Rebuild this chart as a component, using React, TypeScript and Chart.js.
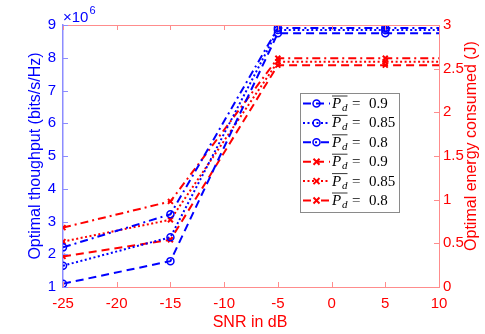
import React, { useEffect, useRef } from "react";
import { Chart, registerables } from "chart.js";
Chart.register(...registerables);

// SNR (dB); last point lies beyond the axis limit and is clipped
const snr = [-25, -15, -5, 5, 15];
// Optimal throughput (x10^6 bits/s/Hz), left axis
const thrPd090 = [1.1, 1.79, 8.75, 8.75, 8.75];
const thrPd085 = [1.65, 2.52, 8.85, 8.85, 8.85];
const thrPd080 = [2.21, 3.22, 8.91, 8.91, 8.91];
// Optimal energy consumed (J), right axis
const engPd090 = [0.35, 0.54, 2.54, 2.54, 2.54];
const engPd085 = [0.52, 0.77, 2.58, 2.58, 2.58];
const engPd080 = [0.68, 0.98, 2.62, 2.62, 2.62];

const legendValues = ["0.9", "0.85", "0.8", "0.9", "0.85", "0.8"];
const xTickValues = [-25, -20, -15, -10, -5, 0, 5, 10];
const yTickValues = [1, 2, 3, 4, 5, 6, 7, 8, 9];
const y1TickValues = [0, 0.5, 1, 1.5, 2, 2.5, 3];

const BLUE = "#0000ff";
const RED = "#ff0000";
const BLUE_AX = "#8c8cff";
const RED_AX = "#ff8c8c";
const SANS = "'Liberation Sans', Arial, sans-serif";
const SERIF = "'Liberation Serif', 'Times New Roman', serif";

const DASHED = [8, 5];
const DOTTED = [2, 2.5];
const DASHDOT = [8, 4, 2, 4];

const toPts = (ys: number[]) => snr.map((x, i) => ({ x, y: ys[i] }));
const fmt = (v: any) => String(Number(v));

const series = [
  { data: thrPd090, color: BLUE, dash: DASHED, marker: "circle", axis: "y" },
  { data: thrPd085, color: BLUE, dash: DOTTED, marker: "circle", axis: "y" },
  { data: thrPd080, color: BLUE, dash: DASHDOT, marker: "circle", axis: "y" },
  { data: engPd090, color: RED, dash: DASHED, marker: "crossRot", axis: "y1" },
  { data: engPd085, color: RED, dash: DOTTED, marker: "crossRot", axis: "y1" },
  { data: engPd080, color: RED, dash: DASHDOT, marker: "crossRot", axis: "y1" },
];

function drawMarker(ctx: CanvasRenderingContext2D, kind: string, x: number, y: number, color: string) {
  ctx.save();
  ctx.setLineDash([]);
  ctx.strokeStyle = color;
  if (kind === "circle") {
    ctx.lineWidth = 1.5;
    ctx.beginPath();
    ctx.arc(x, y, 3.5, 0, Math.PI * 2);
    ctx.stroke();
  } else {
    ctx.lineWidth = 2;
    const r = 3;
    ctx.beginPath();
    ctx.moveTo(x - r, y - r);
    ctx.lineTo(x + r, y + r);
    ctx.moveTo(x + r, y - r);
    ctx.lineTo(x - r, y + r);
    ctx.stroke();
  }
  ctx.restore();
}

const overlay = {
  id: "overlay",
  afterDraw(chart: any) {
    const ctx: CanvasRenderingContext2D = chart.ctx;
    const { left, right, top, bottom } = chart.chartArea;
    const xs = chart.scales.x;
    const ys = chart.scales.y;
    const y1 = chart.scales.y1;
    ctx.save();
    // top spine
    ctx.strokeStyle = RED_AX;
    ctx.lineWidth = 1;
    ctx.beginPath();
    ctx.moveTo(left, top + 0.5);
    ctx.lineTo(right, top + 0.5);
    ctx.stroke();
    // inward tick marks
    const TL = 5;
    ctx.beginPath();
    xTickValues.forEach((v) => {
      const px = Math.round(xs.getPixelForValue(v)) + 0.5;
      ctx.moveTo(px, bottom);
      ctx.lineTo(px, bottom - TL);
      ctx.moveTo(px, top);
      ctx.lineTo(px, top + TL);
    });
    y1TickValues.forEach((v) => {
      const py = Math.round(y1.getPixelForValue(v)) + 0.5;
      ctx.moveTo(right, py);
      ctx.lineTo(right - TL, py);
    });
    ctx.stroke();
    ctx.strokeStyle = BLUE_AX;
    ctx.beginPath();
    yTickValues.forEach((v) => {
      const py = Math.round(ys.getPixelForValue(v)) + 0.5;
      ctx.moveTo(left, py);
      ctx.lineTo(left + TL, py);
    });
    ctx.stroke();

    // x10^6 exponent label
    ctx.fillStyle = BLUE;
    ctx.textAlign = "left";
    ctx.textBaseline = "alphabetic";
    ctx.font = `15px ${SANS}`;
    ctx.fillText("\u00d710", 63, 22);
    const w = ctx.measureText("\u00d710").width;
    ctx.font = `11px ${SANS}`;
    ctx.fillText("6", 63 + w + 1, 14);

    // axis titles
    ctx.font = `16px ${SANS}`;
    ctx.textAlign = "center";
    ctx.textBaseline = "middle";
    ctx.save();
    ctx.translate(36, 156);
    ctx.rotate(-Math.PI / 2);
    ctx.fillStyle = BLUE;
    ctx.fillText("Optimal thoughput (bits/s/Hz)", 0, 0);
    ctx.restore();
    ctx.save();
    ctx.translate(472, 146);
    ctx.rotate(-Math.PI / 2);
    ctx.fillStyle = RED;
    ctx.fillText("Optimal energy consumed (J)", 0, 0);
    ctx.restore();
    ctx.fillStyle = RED;
    ctx.fillText("SNR in dB", 250, 323);

    // legend
    const bx = 300.5, by = 93.5, bw = 99, bh = 119;
    ctx.fillStyle = "#ffffff";
    ctx.fillRect(bx, by, bw, bh);
    ctx.strokeStyle = "#8a8a8a";
    ctx.lineWidth = 1;
    ctx.strokeRect(bx, by, bw, bh);
    series.forEach((s, i) => {
      const cy = 103.5 + i * 19.4;
      ctx.save();
      ctx.strokeStyle = s.color;
      ctx.lineWidth = 2;
      ctx.setLineDash(s.dash);
      ctx.beginPath();
      ctx.moveTo(303, cy);
      ctx.lineTo(330, cy);
      ctx.stroke();
      ctx.restore();
      drawMarker(ctx, s.marker, 316.5, cy, s.color);
      ctx.fillStyle = "#000000";
      ctx.textAlign = "left";
      ctx.textBaseline = "alphabetic";
      ctx.font = `italic 15px ${SERIF}`;
      ctx.fillText("P", 332, cy + 4.5);
      ctx.font = `italic 11px ${SERIF}`;
      ctx.fillText("d", 342, cy + 7.5);
      ctx.strokeStyle = "#000000";
      ctx.lineWidth = 0.8;
      ctx.beginPath();
      ctx.moveTo(332, cy - 7.5);
      ctx.lineTo(347.5, cy - 7.5);
      ctx.stroke();
      ctx.font = `15px ${SERIF}`;
      ctx.fillText("=", 352, cy + 4.5);
      ctx.fillText(legendValues[i], 369, cy + 4.5);
    });
    ctx.restore();
  },
};

export default function App() {
  const ref = useRef<HTMLCanvasElement>(null);
  useEffect(() => {
    if (!ref.current) return;
    const chart = new Chart(ref.current, {
      type: "line",
      data: {
        datasets: series.map((s, i) => ({
          label: `Pd=${legendValues[i]}`,
          data: toPts(s.data),
          yAxisID: s.axis,
          borderColor: s.color,
          backgroundColor: "rgba(0,0,0,0)",
          borderWidth: 2,
          borderDash: s.dash,
          pointStyle: s.marker as any,
          pointRadius: 3.5,
          pointBorderWidth: s.marker === "circle" ? 1.5 : 2,
          pointBorderColor: s.color,
          pointBackgroundColor: "rgba(0,0,0,0)",
          tension: 0,
          fill: false,
          clip: 0,
        })),
      },
      options: {
        responsive: false,
        animation: false,
        layout: { padding: { top: 25, left: 0, right: 0, bottom: 0 } },
        plugins: { legend: { display: false }, tooltip: { enabled: false } },
        scales: {
          x: {
            type: "linear",
            min: -25,
            max: 10,
            ticks: { stepSize: 5, color: RED, font: { size: 15, family: SANS }, padding: 8, maxRotation: 0, callback: fmt },
            grid: { display: false, drawTicks: false },
            border: { color: RED_AX, width: 1 },
            afterFit: (s: any) => { s.height = 47; },
          },
          y: {
            type: "linear",
            position: "left",
            min: 1,
            max: 9,
            ticks: { stepSize: 1, color: BLUE, font: { size: 15, family: SANS }, padding: 7, callback: fmt },
            grid: { display: false, drawTicks: false },
            border: { color: BLUE_AX, width: 1.5 },
            afterFit: (s: any) => { s.width = 63; },
          },
          y1: {
            type: "linear",
            position: "right",
            min: 0,
            max: 3,
            ticks: { stepSize: 0.5, color: RED, font: { size: 15, family: SANS }, padding: 4, callback: fmt },
            grid: { display: false, drawTicks: false },
            border: { color: RED_AX, width: 1 },
            afterFit: (s: any) => { s.width = 46; },
          },
        },
      },
      plugins: [overlay],
    });
    return () => chart.destroy();
  }, []);
  return (
    <canvas
      ref={ref}
      width={485}
      height={334}
      style={{ position: "absolute", left: 0, top: 0, width: 485, height: 334 }}
    />
  );
}
